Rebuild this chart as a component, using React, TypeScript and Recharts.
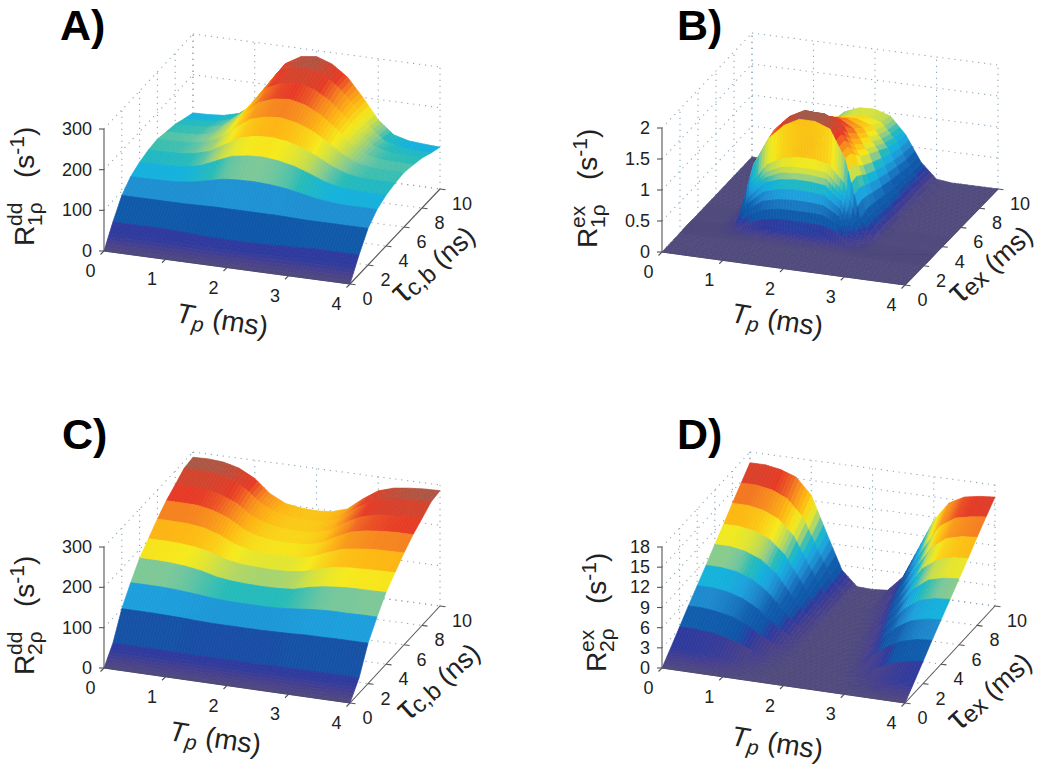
import React from 'react';
import { ScatterChart, Scatter, XAxis, YAxis } from 'recharts';

const WIDTH = 1050;
const HEIGHT = 774;
const FONT = '"Liberation Sans", Arial, sans-serif';
const INK = '#222';
const AXIS = '#555';
const DOT = '#8ea8b8';

const TP = [0, 0.25, 0.5, 0.75, 1, 1.25, 1.5, 1.75, 2, 2.25, 2.5, 2.75, 3, 3.25, 3.5, 3.75, 4];
const TP_TICKS = [0, 1, 2, 3, 4];
const TAU_TICKS = [0, 2, 4, 6, 8, 10];
const TAU_STEP = [0, 1, 2, 3, 4, 5, 6, 7, 8, 9, 10];
const TAU_B = [0, 2, 2.3, 2.4, 2.5, 2.6, 2.7, 2.8, 2.9, 3, 3.1, 3.25, 3.4, 4, 4.5, 5, 6, 7, 8, 9, 10];

const Z_TICKS_DD = [0, 100, 200, 300];
const Z_TICKS_B = [0, 0.5, 1, 1.5, 2];
const Z_TICKS_D = [0, 3, 6, 9, 12, 15, 18];

// rows run along tau, columns along Tp
const Z_A = [
  [0, 0, 0, 0, 0, 0, 0, 0, 0, 0, 0, 0, 0, 0, 0, 0, 0],
  [48, 48, 48, 48, 47, 45, 43, 42, 42, 42, 43, 45, 46, 48, 48, 48, 48],
  [90, 90, 90, 90, 90, 91, 92, 92, 92, 92, 92, 91, 90, 90, 90, 90, 90],
  [113, 113, 114, 115, 120, 128, 137, 140, 141, 139, 135, 128, 120, 115, 113, 113, 113],
  [125, 125, 126, 129, 137, 154, 170, 176, 178, 174, 166, 153, 138, 129, 126, 125, 125],
  [132, 132, 133, 138, 149, 171, 192, 201, 203, 198, 187, 170, 150, 137, 132, 132, 131],
  [135, 135, 137, 142, 157, 186, 214, 225, 228, 221, 207, 184, 158, 141, 135, 134, 134],
  [130, 131, 132, 140, 158, 196, 232, 246, 250, 241, 222, 193, 160, 138, 131, 130, 129],
  [125, 126, 128, 136, 158, 203, 245, 262, 266, 256, 233, 199, 160, 134, 126, 124, 123],
  [115, 116, 118, 128, 154, 206, 256, 276, 281, 269, 243, 203, 156, 126, 116, 113, 112],
  [106, 107, 110, 120, 148, 204, 258, 280, 285, 272, 245, 200, 150, 118, 108, 105, 103],
];

const Z_B = [
  [0, 0, 0, 0, 0, 0, 0, 0, 0, 0, 0, 0, 0, 0, 0, 0, 0],
  [0, 0, 0, 0, 0, 0, 0, 0, 0, 0, 0, 0, 0, 0, 0, 0, 0],
  [0, 0, 0, 0, 0.03, 0.04, 0.05, 0.05, 0.05, 0.05, 0.04, 0.01, 0, 0, 0, 0, 0],
  [0, 0, 0, 0.01, 0.12, 0.17, 0.19, 0.2, 0.2, 0.19, 0.15, 0.03, 0, 0, 0, 0, 0],
  [0, 0, 0, 0.02, 0.21, 0.3, 0.34, 0.35, 0.35, 0.34, 0.26, 0.05, 0, 0, 0, 0, 0],
  [0, 0, 0, 0.03, 0.3, 0.44, 0.49, 0.5, 0.5, 0.49, 0.38, 0.08, 0, 0, 0, 0, 0],
  [0, 0, 0, 0.03, 0.39, 0.57, 0.63, 0.65, 0.65, 0.63, 0.49, 0.1, 0, 0, 0, 0, 0],
  [0, 0, 0, 0.04, 0.48, 0.7, 0.78, 0.8, 0.8, 0.78, 0.6, 0.13, 0, 0, 0, 0, 0],
  [0, 0, 0, 0.05, 0.57, 0.83, 0.92, 0.95, 0.95, 0.92, 0.71, 0.16, 0, 0, 0, 0, 0],
  [0, 0, 0, 0.05, 0.62, 0.9, 1.01, 1.04, 1.04, 1.01, 0.78, 0.19, 0, 0, 0, 0, 0],
  [0, 0, 0, 0.06, 0.67, 0.97, 1.09, 1.12, 1.12, 1.09, 0.84, 0.22, 0, 0, 0, 0, 0],
  [0, 0, 0, 0.07, 0.75, 1.08, 1.21, 1.26, 1.26, 1.21, 0.95, 0.28, 0, 0, 0, 0, 0],
  [0, 0, 0, 0.09, 1.02, 1.48, 1.72, 1.85, 1.85, 1.76, 1.3, 0.38, 0.01, 0, 0, 0, 0],
  [0, 0, 0, 0.1, 1.05, 1.52, 1.77, 1.9, 1.88, 1.78, 1.3, 0.42, 0.02, 0, 0, 0, 0],
  [0, 0, 0, 0.08, 0.9, 1.4, 1.67, 1.8, 1.8, 1.66, 1.2, 0.42, 0.02, 0, 0, 0, 0],
  [0, 0, 0, 0.07, 0.8, 1.28, 1.55, 1.68, 1.68, 1.54, 1.1, 0.4, 0.02, 0, 0, 0, 0],
  [0, 0, 0, 0.05, 0.66, 1.1, 1.37, 1.5, 1.5, 1.36, 0.98, 0.36, 0.02, 0, 0, 0, 0],
  [0, 0, 0, 0.04, 0.54, 0.96, 1.2, 1.33, 1.33, 1.22, 0.88, 0.32, 0.02, 0, 0, 0, 0],
  [0, 0, 0, 0.03, 0.44, 0.82, 1.06, 1.18, 1.18, 1.1, 0.78, 0.3, 0.03, 0, 0, 0, 0],
  [0, 0, 0, 0.02, 0.34, 0.72, 0.95, 1.05, 1.06, 1, 0.72, 0.27, 0.03, 0, 0, 0, 0],
  [0, 0, 0, 0.02, 0.27, 0.66, 0.92, 1.02, 1.03, 0.95, 0.68, 0.27, 0.03, 0, 0, 0, 0],
];

const Z_C = [
  [0, 0, 0, 0, 0, 0, 0, 0, 0, 0, 0, 0, 0, 0, 0, 0, 0],
  [38, 38, 38, 38, 38, 37, 37, 37, 37, 37, 37, 38, 38, 38, 38, 38, 38],
  [100, 100, 100, 99, 98, 96, 95, 95, 95, 95, 96, 97, 99, 99, 100, 100, 100],
  [141, 141, 141, 139, 136, 132, 129, 128, 128, 128, 130, 134, 138, 140, 140, 141, 141],
  [178, 178, 177, 174, 168, 158, 153, 151, 150, 151, 154, 164, 171, 175, 177, 177, 178],
  [203, 203, 202, 198, 191, 178, 171, 169, 168, 169, 174, 185, 195, 199, 201, 202, 203],
  [228, 228, 227, 222, 210, 192, 182, 179, 178, 180, 186, 202, 216, 222, 226, 227, 228],
  [250, 250, 249, 242, 228, 205, 192, 187, 186, 188, 196, 217, 235, 243, 247, 249, 249],
  [266, 266, 265, 256, 240, 213, 199, 193, 192, 194, 204, 228, 248, 258, 262, 265, 265],
  [283, 283, 281, 272, 252, 221, 203, 197, 195, 198, 209, 238, 262, 273, 279, 281, 282],
  [287, 288, 285, 275, 255, 222, 203, 197, 195, 198, 210, 240, 265, 277, 282, 285, 286],
];

const Z_D = [
  [0, 0, 0, 0, 0, 0, 0, 0, 0, 0, 0, 0, 0, 0, 0, 0, 0],
  [1.6, 1.6, 1.5, 1.3, 0.9, 0.4, 0.1, 0, 0, 0, 0, 0, 0.2, 0.6, 1.1, 1.4, 1.6],
  [3.3, 3.3, 3.1, 2.7, 2, 1, 0.3, 0, 0, 0, 0, 0.1, 0.5, 1.3, 2.4, 3, 3.3],
  [5, 5, 4.7, 4.2, 3.2, 1.8, 0.6, 0.1, 0, 0, 0, 0.2, 1.3, 3, 4.2, 4.8, 5],
  [6.6, 6.6, 6.3, 5.6, 4.4, 2.6, 0.9, 0.1, 0, 0, 0, 0.4, 2, 4.4, 5.8, 6.4, 6.6],
  [8.2, 8.2, 7.9, 7.1, 5.6, 3.3, 1.1, 0.1, 0, 0, 0.1, 0.8, 3, 5.8, 7.4, 8, 8.2],
  [9.9, 9.9, 9.5, 8.6, 6.9, 4, 1.3, 0.1, 0, 0, 0.2, 1.5, 4.2, 7.3, 9, 9.6, 9.8],
  [11.5, 11.5, 11.1, 10.2, 8.2, 4.8, 1.5, 0.1, 0, 0, 0.4, 2.4, 5.6, 8.9, 10.6, 11.2, 11.4],
  [13.2, 13.2, 12.8, 11.8, 9.6, 5.6, 1.8, 0.1, 0, 0.1, 0.8, 3.6, 7.2, 10.6, 12.3, 12.9, 13.1],
  [14.8, 14.8, 14.4, 13.4, 11, 6.5, 2, 0.1, 0, 0.1, 1.4, 5, 9, 12.4, 13.9, 14.4, 14.7],
  [16.4, 16.4, 16, 15.2, 12.8, 7.5, 2.3, 0.1, 0, 0.2, 2.5, 7, 11.5, 14.4, 15.6, 16, 16.2],
];

// printed jet colour map
const COLOR_STOPS: [number, string][] = [
  [0, '#504a7c'], [0.05, '#463f8e'], [0.1, '#2e3a9e'], [0.14, '#0f56a7'], [0.22, '#115fae'],
  [0.3, '#1e88cc'], [0.35, '#1da0dc'], [0.4, '#14b2dc'], [0.45, '#26bbb8'], [0.49, '#7cc899'],
  [0.55, '#c6dd4e'], [0.61, '#f5ea1c'], [0.7, '#fdb913'], [0.79, '#f6851f'], [0.87, '#e63a26'],
  [0.93, '#d2452e'], [1, '#a35a4a'],
];

const PANELS = [
  {
    id: 'A', letterX: 60, letterY: 40,
    fl: [104, 251], fr: [350, 284], br: [440, 189], bl: [193, 156],
    zPerPx: 122 / 300, zTop: 300, zMax: 287, tau: TAU_STEP, z: Z_A, zTicks: Z_TICKS_DD,
    tpTitle: [175, 322], tauTitle: [403, 305], tauSub: 'c,b', tauUnit: '(ns)',
    rTitle: [34, 246], rSup: 'dd', rSub: '1ρ',
  },
  {
    id: 'B', letterX: 677, letterY: 40,
    fl: [662, 252], fr: [905, 285], br: [998, 189], bl: [752, 157],
    zPerPx: 62, zTop: 2, zMax: 1.85, tau: TAU_B, z: Z_B, zTicks: Z_TICKS_B,
    tpTitle: [730, 322], tauTitle: [960, 305], tauSub: 'ex', tauUnit: '(ms)',
    rTitle: [597, 248], rSup: 'ex', rSub: '1ρ',
  },
  {
    id: 'C', letterX: 62, letterY: 449,
    fl: [104, 668], fr: [350, 703], br: [440, 606], bl: [193, 573],
    zPerPx: 121 / 300, zTop: 300, zMax: 287, tau: TAU_STEP, z: Z_C, zTicks: Z_TICKS_DD,
    tpTitle: [168, 740], tauTitle: [408, 722], tauSub: 'c,b', tauUnit: '(ns)',
    rTitle: [34, 675], rSup: 'dd', rSub: '2ρ',
  },
  {
    id: 'D', letterX: 677, letterY: 449,
    fl: [662, 668], fr: [905, 703], br: [995, 606], bl: [750, 573],
    zPerPx: 121 / 18, zTop: 18, zMax: 16.4, tau: TAU_STEP, z: Z_D, zTicks: Z_TICKS_D,
    tpTitle: [730, 745], tauTitle: [959, 732], tauSub: 'ex', tauUnit: '(ms)',
    rTitle: [606, 672], rSup: 'ex', rSub: '2ρ',
  },
];

type Panel = (typeof PANELS)[number];

const lerp = (a: number, b: number, t: number) => a + (b - a) * t;

function project(p: Panel, tp: number, tau: number, z: number) {
  const u = tp / 4;
  const v = tau / 10;
  const x = lerp(lerp(p.fl[0], p.fr[0], u), lerp(p.bl[0], p.br[0], u), v);
  const y = lerp(lerp(p.fl[1], p.fr[1], u), lerp(p.bl[1], p.br[1], u), v);
  return { x, y: y - z * p.zPerPx };
}

function colorOf(frac: number) {
  const f = Math.min(1, Math.max(0, frac));
  let i = 0;
  while (i < COLOR_STOPS.length - 2 && f > COLOR_STOPS[i + 1][0]) i++;
  const [f0, c0] = COLOR_STOPS[i];
  const [f1, c1] = COLOR_STOPS[i + 1];
  const t = (f - f0) / (f1 - f0);
  const part = (k: number) =>
    Math.round(lerp(parseInt(c0.slice(k, k + 2), 16), parseInt(c1.slice(k, k + 2), 16), t));
  return `rgb(${part(1)},${part(3)},${part(5)})`;
}

// each surface cell, back to front; colour follows the lower tau edge like flat shading
function buildCells(p: Panel) {
  const out: any[] = [];
  const S = 5;
  for (let i = p.tau.length - 2; i >= 0; i--) {
    for (let j = 0; j < TP.length - 1; j++) {
      const a = project(p, TP[j], p.tau[i], p.z[i][j]);
      const b = project(p, TP[j + 1], p.tau[i], p.z[i][j + 1]);
      const c = project(p, TP[j + 1], p.tau[i + 1], p.z[i + 1][j + 1]);
      const d = project(p, TP[j], p.tau[i + 1], p.z[i + 1][j]);
      const at = (s: number, t: number) => ({
        x: lerp(lerp(a.x, b.x, s), lerp(d.x, c.x, s), t),
        y: lerp(lerp(a.y, b.y, s), lerp(d.y, c.y, s), t),
      });
      for (let s = 0; s < S; s++) {
        const sm = (s + 0.5) / S;
        const zl = lerp(p.z[i][j], p.z[i][j + 1], sm);
        const zu = lerp(p.z[i + 1][j], p.z[i + 1][j + 1], sm);
        const graded = zl < 0.03 * p.zMax;
        const V = graded ? 8 : 1;
        for (let t = V - 1; t >= 0; t--) {
          const zc = graded ? Math.min(lerp(zl, zu, (t + 0.5) / V), 0.1 * p.zMax) : zl;
          const pts = [at(s / S, t / V), at((s + 1) / S, t / V), at((s + 1) / S, (t + 1) / V), at(s / S, (t + 1) / V)];
          const cx = (pts[0].x + pts[2].x) / 2;
          const cy = (pts[0].y + pts[2].y) / 2;
          out.push({
            x: cx,
            y: cy,
            rel: pts.map((q) => `${(q.x - cx).toFixed(2)},${(q.y - cy).toFixed(2)}`).join(' '),
            fill: colorOf(zc / p.zMax),
          });
        }
      }
    }
  }
  return out;
}

function segment(a: { x: number; y: number }, b: { x: number; y: number }) {
  return { x: a.x, y: a.y, dx: b.x - a.x, dy: b.y - a.y };
}

function buildGrid(p: Panel) {
  const out: any[] = [];
  for (const t of TP_TICKS) out.push(segment(project(p, t, 10, 0), project(p, t, 10, p.zTop)));
  for (const t of TAU_TICKS.slice(1)) out.push(segment(project(p, 0, t, 0), project(p, 0, t, p.zTop)));
  for (const z of p.zTicks) {
    out.push(segment(project(p, 0, 10, z), project(p, 4, 10, z)));
    out.push(segment(project(p, 0, 0, z), project(p, 0, 10, z)));
  }
  for (const t of TP_TICKS.slice(1, -1)) out.push(segment(project(p, t, 0, 0), project(p, t, 10, 0)));
  for (const t of TAU_TICKS.slice(1)) out.push(segment(project(p, 0, t, 0), project(p, 4, t, 0)));
  return out;
}

function buildAxes(p: Panel) {
  const out: any[] = [];
  out.push(segment(project(p, 0, 0, 0), project(p, 0, 0, p.zTop)));
  out.push(segment(project(p, 0, 0, 0), project(p, 4, 0, 0)));
  out.push(segment(project(p, 4, 0, 0), project(p, 4, 10, 0)));
  for (const z of p.zTicks) {
    const q = project(p, 0, 0, z);
    out.push(segment(q, { x: q.x - 5, y: q.y }));
  }
  for (const t of TP_TICKS) {
    const q = project(p, t, 0, 0);
    out.push(segment(q, { x: q.x - 3.5, y: q.y + 3.5 }));
  }
  for (const t of TAU_TICKS) {
    const q = project(p, 4, t, 0);
    out.push(segment(q, { x: q.x + 5.5, y: q.y + 0.7 }));
  }
  return out;
}

function buildTickLabels(p: Panel) {
  const out: any[] = [];
  for (const z of p.zTicks) {
    const q = project(p, 0, 0, z);
    out.push({ x: q.x - 12, y: q.y + 6, text: String(z), anchor: 'end' });
  }
  for (const t of TP_TICKS) {
    const q = project(p, t, 0, 0);
    out.push({ x: q.x - 13.5, y: q.y + 26, text: String(t), anchor: 'middle' });
  }
  for (const t of TAU_TICKS) {
    const q = project(p, 4, t, 0);
    out.push({ x: q.x + (t === 10 ? 22 : 17.5), y: q.y + 21, text: String(t), anchor: 'middle' });
  }
  return out;
}

const CellShape = (s: any) => (
  <polygon
    transform={`translate(${s.cx},${s.cy})`}
    points={s.payload.rel}
    fill={s.payload.fill}
    stroke={s.payload.fill}
    strokeWidth={0.7}
  />
);

const GridShape = (s: any) => (
  <line
    x1={s.cx}
    y1={s.cy}
    x2={s.cx + s.payload.dx}
    y2={s.cy + s.payload.dy}
    stroke={DOT}
    strokeWidth={1.1}
    strokeDasharray="1.2 4.8"
  />
);

const AxisShape = (s: any) => (
  <line x1={s.cx} y1={s.cy} x2={s.cx + s.payload.dx} y2={s.cy + s.payload.dy} stroke={AXIS} strokeWidth={1.1} />
);

const TickShape = (s: any) => (
  <text x={s.cx} y={s.cy} textAnchor={s.payload.anchor} fontFamily={FONT} fontSize={18} fill={INK}>
    {s.payload.text}
  </text>
);

const LetterShape = (s: any) => (
  <text x={s.cx} y={s.cy} fontFamily={FONT} fontWeight="bold" fontSize={43} fill="#000">
    {s.payload.text}
  </text>
);

const TpTitle = (s: any) => (
  <text transform={`translate(${s.cx},${s.cy}) rotate(9)`} fontFamily={FONT} fontSize={28} fill={INK}>
    <tspan fontStyle="italic">T</tspan>
    <tspan fontStyle="italic" fontSize={21} dy={6}>p</tspan>
    <tspan dy={-6}> (ms)</tspan>
  </text>
);

const TauTitle = (s: any) => (
  <text transform={`translate(${s.cx},${s.cy}) rotate(-42)`} fontFamily={FONT} fontSize={27} fill={INK}>
    <tspan fontSize={34}>τ</tspan>
    <tspan fontSize={24} dy={2}>{s.payload.sub}</tspan>
    <tspan dy={-2}> {s.payload.unit}</tspan>
  </text>
);

const RTitle = (s: any) => (
  <g transform={`translate(${s.cx},${s.cy}) rotate(-90)`} fontFamily={FONT} fill={INK}>
    <text x={0} y={0} fontSize={28}>R</text>
    <text x={20} y={-12} fontSize={21}>{s.payload.sup}</text>
    <text x={20} y={8} fontSize={21}>{s.payload.sub}</text>
    <text x={68} y={0} fontSize={28}>
      <tspan>(s</tspan>
      <tspan fontSize={21} dy={-10}>-1</tspan>
      <tspan dy={10}>)</tspan>
    </text>
  </g>
);

export default function App() {
  return (
    <div style={{ position: 'absolute', left: 0, top: 0 }}>
      <ScatterChart width={WIDTH} height={HEIGHT} margin={{ top: 0, right: 0, bottom: 0, left: 0 }}>
        <XAxis type="number" dataKey="x" domain={[0, WIDTH]} hide />
        <YAxis type="number" dataKey="y" domain={[0, HEIGHT]} reversed hide />
        {PANELS.map((p) => (
          <Scatter key={`${p.id}-grid`} data={buildGrid(p)} shape={GridShape} isAnimationActive={false} />
        ))}
        {PANELS.map((p) => (
          <Scatter key={`${p.id}-axes`} data={buildAxes(p)} shape={AxisShape} isAnimationActive={false} />
        ))}
        {PANELS.map((p) => (
          <Scatter key={`${p.id}-surface`} data={buildCells(p)} shape={CellShape} isAnimationActive={false} />
        ))}
        {PANELS.map((p) => (
          <Scatter key={`${p.id}-ticks`} data={buildTickLabels(p)} shape={TickShape} isAnimationActive={false} />
        ))}
        {PANELS.map((p) => (
          <Scatter
            key={`${p.id}-letter`}
            data={[{ x: p.letterX, y: p.letterY, text: `${p.id})` }]}
            shape={LetterShape}
            isAnimationActive={false}
          />
        ))}
        {PANELS.map((p) => (
          <Scatter
            key={`${p.id}-tp`}
            data={[{ x: p.tpTitle[0], y: p.tpTitle[1] }]}
            shape={TpTitle}
            isAnimationActive={false}
          />
        ))}
        {PANELS.map((p) => (
          <Scatter
            key={`${p.id}-tau`}
            data={[{ x: p.tauTitle[0], y: p.tauTitle[1], sub: p.tauSub, unit: p.tauUnit }]}
            shape={TauTitle}
            isAnimationActive={false}
          />
        ))}
        {PANELS.map((p) => (
          <Scatter
            key={`${p.id}-r`}
            data={[{ x: p.rTitle[0], y: p.rTitle[1], sup: p.rSup, sub: p.rSub }]}
            shape={RTitle}
            isAnimationActive={false}
          />
        ))}
      </ScatterChart>
    </div>
  );
}
